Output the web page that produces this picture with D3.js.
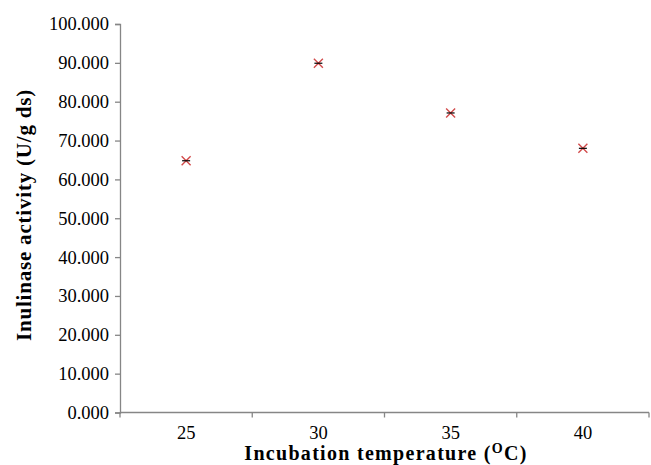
<!DOCTYPE html>
<html><head><meta charset="utf-8">
<script src="https://cdn.jsdelivr.net/npm/d3@7"></script>
<style>body{margin:0;background:#fff}</style>
</head><body>
<svg id="c" width="651" height="465"></svg>
<script>
const categories = ["25","30","35","40"];
const values = [64.8, 89.9, 77.1, 68.0];
const yTicks = [0,10,20,30,40,50,60,70,80,90,100];

(function(){
const svg = d3.select("#c");
const mLeft = 120, mRight = 649, mTop = 24, mBottom = 412.5;
const x = d3.scaleBand().domain(categories).range([mLeft, mRight]);
const y = d3.scaleLinear().domain([0,100]).range([mBottom, mTop]);
const axisColor = "#868686";
const font = '"Liberation Serif"';

// y axis
const ya = svg.append("g").attr("transform",`translate(${mLeft},0)`)
  .call(d3.axisLeft(y).tickValues(yTicks).tickSize(5).tickPadding(6).tickFormat(d3.format(".3f")));
ya.attr("font-family",null).attr("font-size",null);
ya.select(".domain").attr("stroke",axisColor).attr("stroke-width",1.3);
ya.selectAll(".tick line").attr("stroke",axisColor).attr("stroke-width",1.3);
ya.selectAll("text").style("font-family",font).style("font-size","18.5px").attr("fill","#000");

// x axis with boundary ticks
const xa = svg.append("g").attr("transform",`translate(0,${mBottom})`);
xa.append("line").attr("x1",mLeft).attr("x2",mRight).attr("y1",0).attr("y2",0)
  .attr("stroke",axisColor).attr("stroke-width",1.3);
const bounds = categories.map(c=>x(c)).concat([x(categories[categories.length-1])+x.bandwidth()]);
xa.selectAll("line.t").data(bounds).enter().append("line").attr("class","t")
  .attr("x1",d=>d).attr("x2",d=>d).attr("y1",0).attr("y2",5)
  .attr("stroke",axisColor).attr("stroke-width",1.3);
xa.selectAll("text.l").data(categories).enter().append("text").attr("class","l")
  .attr("x",d=>x(d)+x.bandwidth()/2).attr("y",26.5).attr("text-anchor","middle")
  .style("font-family",font).style("font-size","18.5px").text(d=>d);

// markers
const g = svg.append("g");
categories.forEach((c,i)=>{
  const cx = x(c)+x.bandwidth()/2, cy = y(values[i]), s = 4.5;
  g.append("path").attr("d",`M${cx-s},${cy-s}L${cx+s},${cy+s}M${cx-s},${cy+s}L${cx+s},${cy-s}`)
    .attr("stroke","#d24b4b").attr("stroke-width",1.4).attr("fill","none");
  g.append("line").attr("x1",cx-4).attr("x2",cx+4).attr("y1",cy).attr("y2",cy)
    .attr("stroke","#000").attr("stroke-width",1.2);
});

// axis titles
const xt = svg.append("text").attr("x",386).attr("y",460).attr("text-anchor","middle")
  .style("font-family",font).style("font-size","20px").style("font-weight","bold").style("letter-spacing","1.3px");
xt.append("tspan").text("Incubation temperature (");
xt.append("tspan").style("font-size","14px").attr("dy","-7").text("O");
xt.append("tspan").attr("dy","7").text("C)");

svg.append("text").attr("transform",`translate(31,215) rotate(-90)`)
  .attr("text-anchor","middle").style("font-family",font).style("font-size","21px").style("font-weight","bold")
  .style("letter-spacing","0.8px")
  .text("Inulinase activity (U/g ds)");
})();
</script>
</body></html>
